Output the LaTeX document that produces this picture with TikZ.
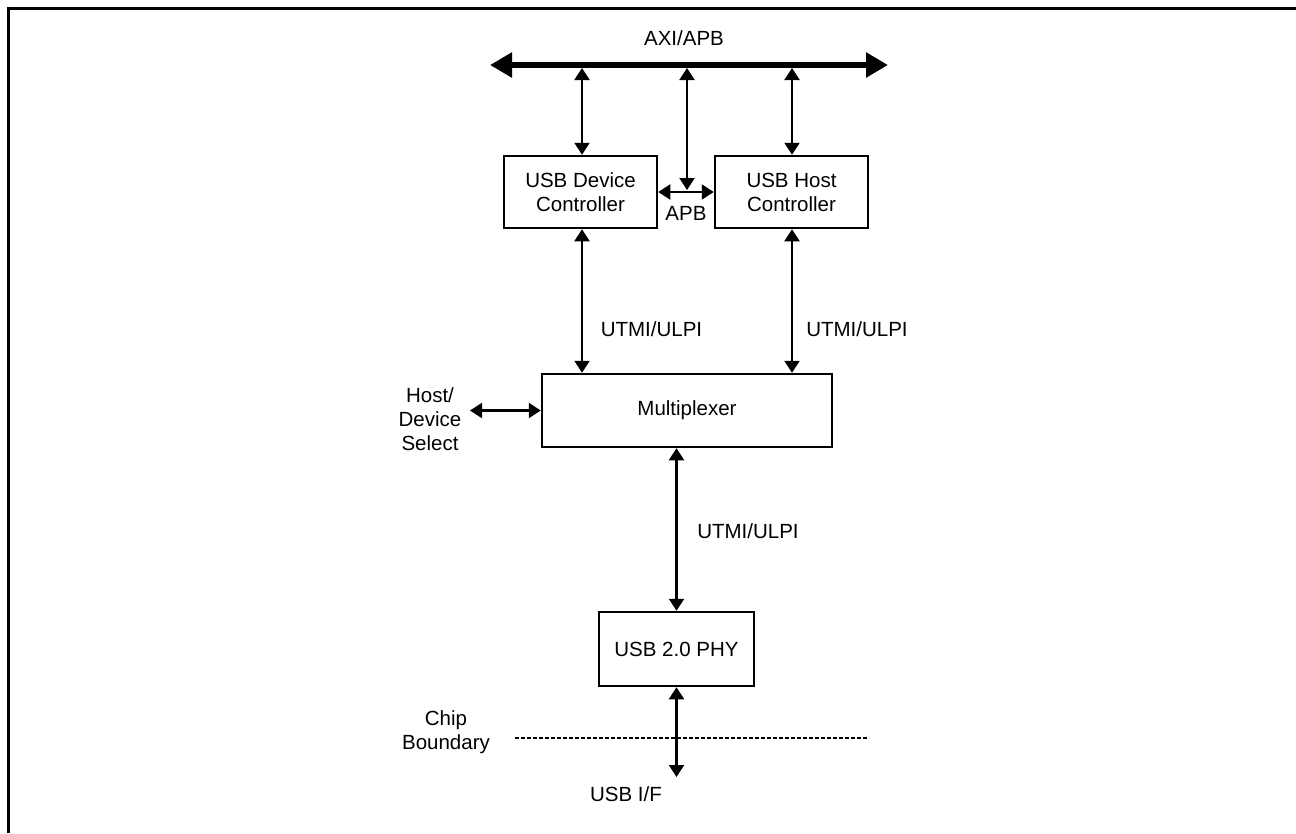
\documentclass[tikz,border=0pt]{standalone}
\usepackage{fontspec}
\setmainfont{Liberation Sans}
\usetikzlibrary{arrows.meta}
\begin{document}
\begin{tikzpicture}[x=1pt,y=-1pt,
  every node/.style={font=\fontsize{20.5}{24}\selectfont,align=center,inner sep=0pt},
  box/.style={draw,line width=2.5pt},
  dbl/.style={line width=2.2pt,{Triangle[length=12pt,width=15pt]}-{Triangle[length=12pt,width=15pt]}},
  bus/.style={line width=6pt,{Triangle[length=22pt,width=24pt]}-{Triangle[length=22pt,width=24pt]}},
  frame/.style={line width=3pt}]
\useasboundingbox (0,0) rectangle (1296,833);
% frame (left and top only)
\draw[frame] (8,833) -- (8,8) -- (1296,8);
% bus
\coordinate (busL) at (490,65);
\coordinate (busR) at (888,65);
\draw[bus] (busL) -- (busR);
\node (axi) at (684,38) {AXI/APB};
% taps
\coordinate (t1) at (582,68);
\coordinate (t2) at (687,68);
\coordinate (t3) at (792,68);
% boxes
\node[box,minimum width=153pt,minimum height=72pt] (dev) at (580.5,192) {USB Device\\Controller};
\node[box,minimum width=153pt,minimum height=72pt] (host) at (791.5,192) {USB Host\\Controller};
\node[box,minimum width=290pt,minimum height=73pt] (mux) at (687,410.5) {Multiplexer};
\node[box,minimum width=155pt,minimum height=74pt] (phy) at (676.5,649) {USB 2.0 PHY};
% bus connections
\draw[dbl] (t1) -- (t1 |- dev.north);
\draw[dbl] (t3) -- (t3 |- host.north);
\coordinate (apb) at (687,192);
\coordinate (apbt) at (687,190);
\draw[dbl] (t2) -- (apbt);
\draw[dbl] (dev.east |- apb) -- (host.west |- apb);
\node (apbl) at (686,213) {APB};
% UTMI links
\draw[dbl] (t1 |- dev.south) -- (t1 |- mux.north);
\draw[dbl] (t3 |- host.south) -- (t3 |- mux.north);
\node (u1) at (651.5,329) {UTMI/ULPI};
\node (u2) at (857,329) {UTMI/ULPI};
% host/device select
\coordinate (hs) at (470,410.5);
\draw[dbl] (hs) -- (mux.west);
\node (hsl) at (430,419) {Host/\\Device\\Select};
% mux to phy
\draw[dbl] (mux.south -| phy.north) -- (phy.north);
\node (u3) at (748,531) {UTMI/ULPI};
% chip boundary
\coordinate (cbL) at (515,738);
\coordinate (cbR) at (869,738);
\draw[line width=1.3pt,dash pattern=on 4pt off 2pt] (cbL) -- (cbR);
\node (cbl) at (446,732) {Chip\\Boundary};
% usb i/f
\coordinate (usbif) at (676.5,777);
\draw[dbl] (phy.south) -- (usbif);
\node (usbl) at (626,794) {USB I/F};
\end{tikzpicture}
\end{document}
